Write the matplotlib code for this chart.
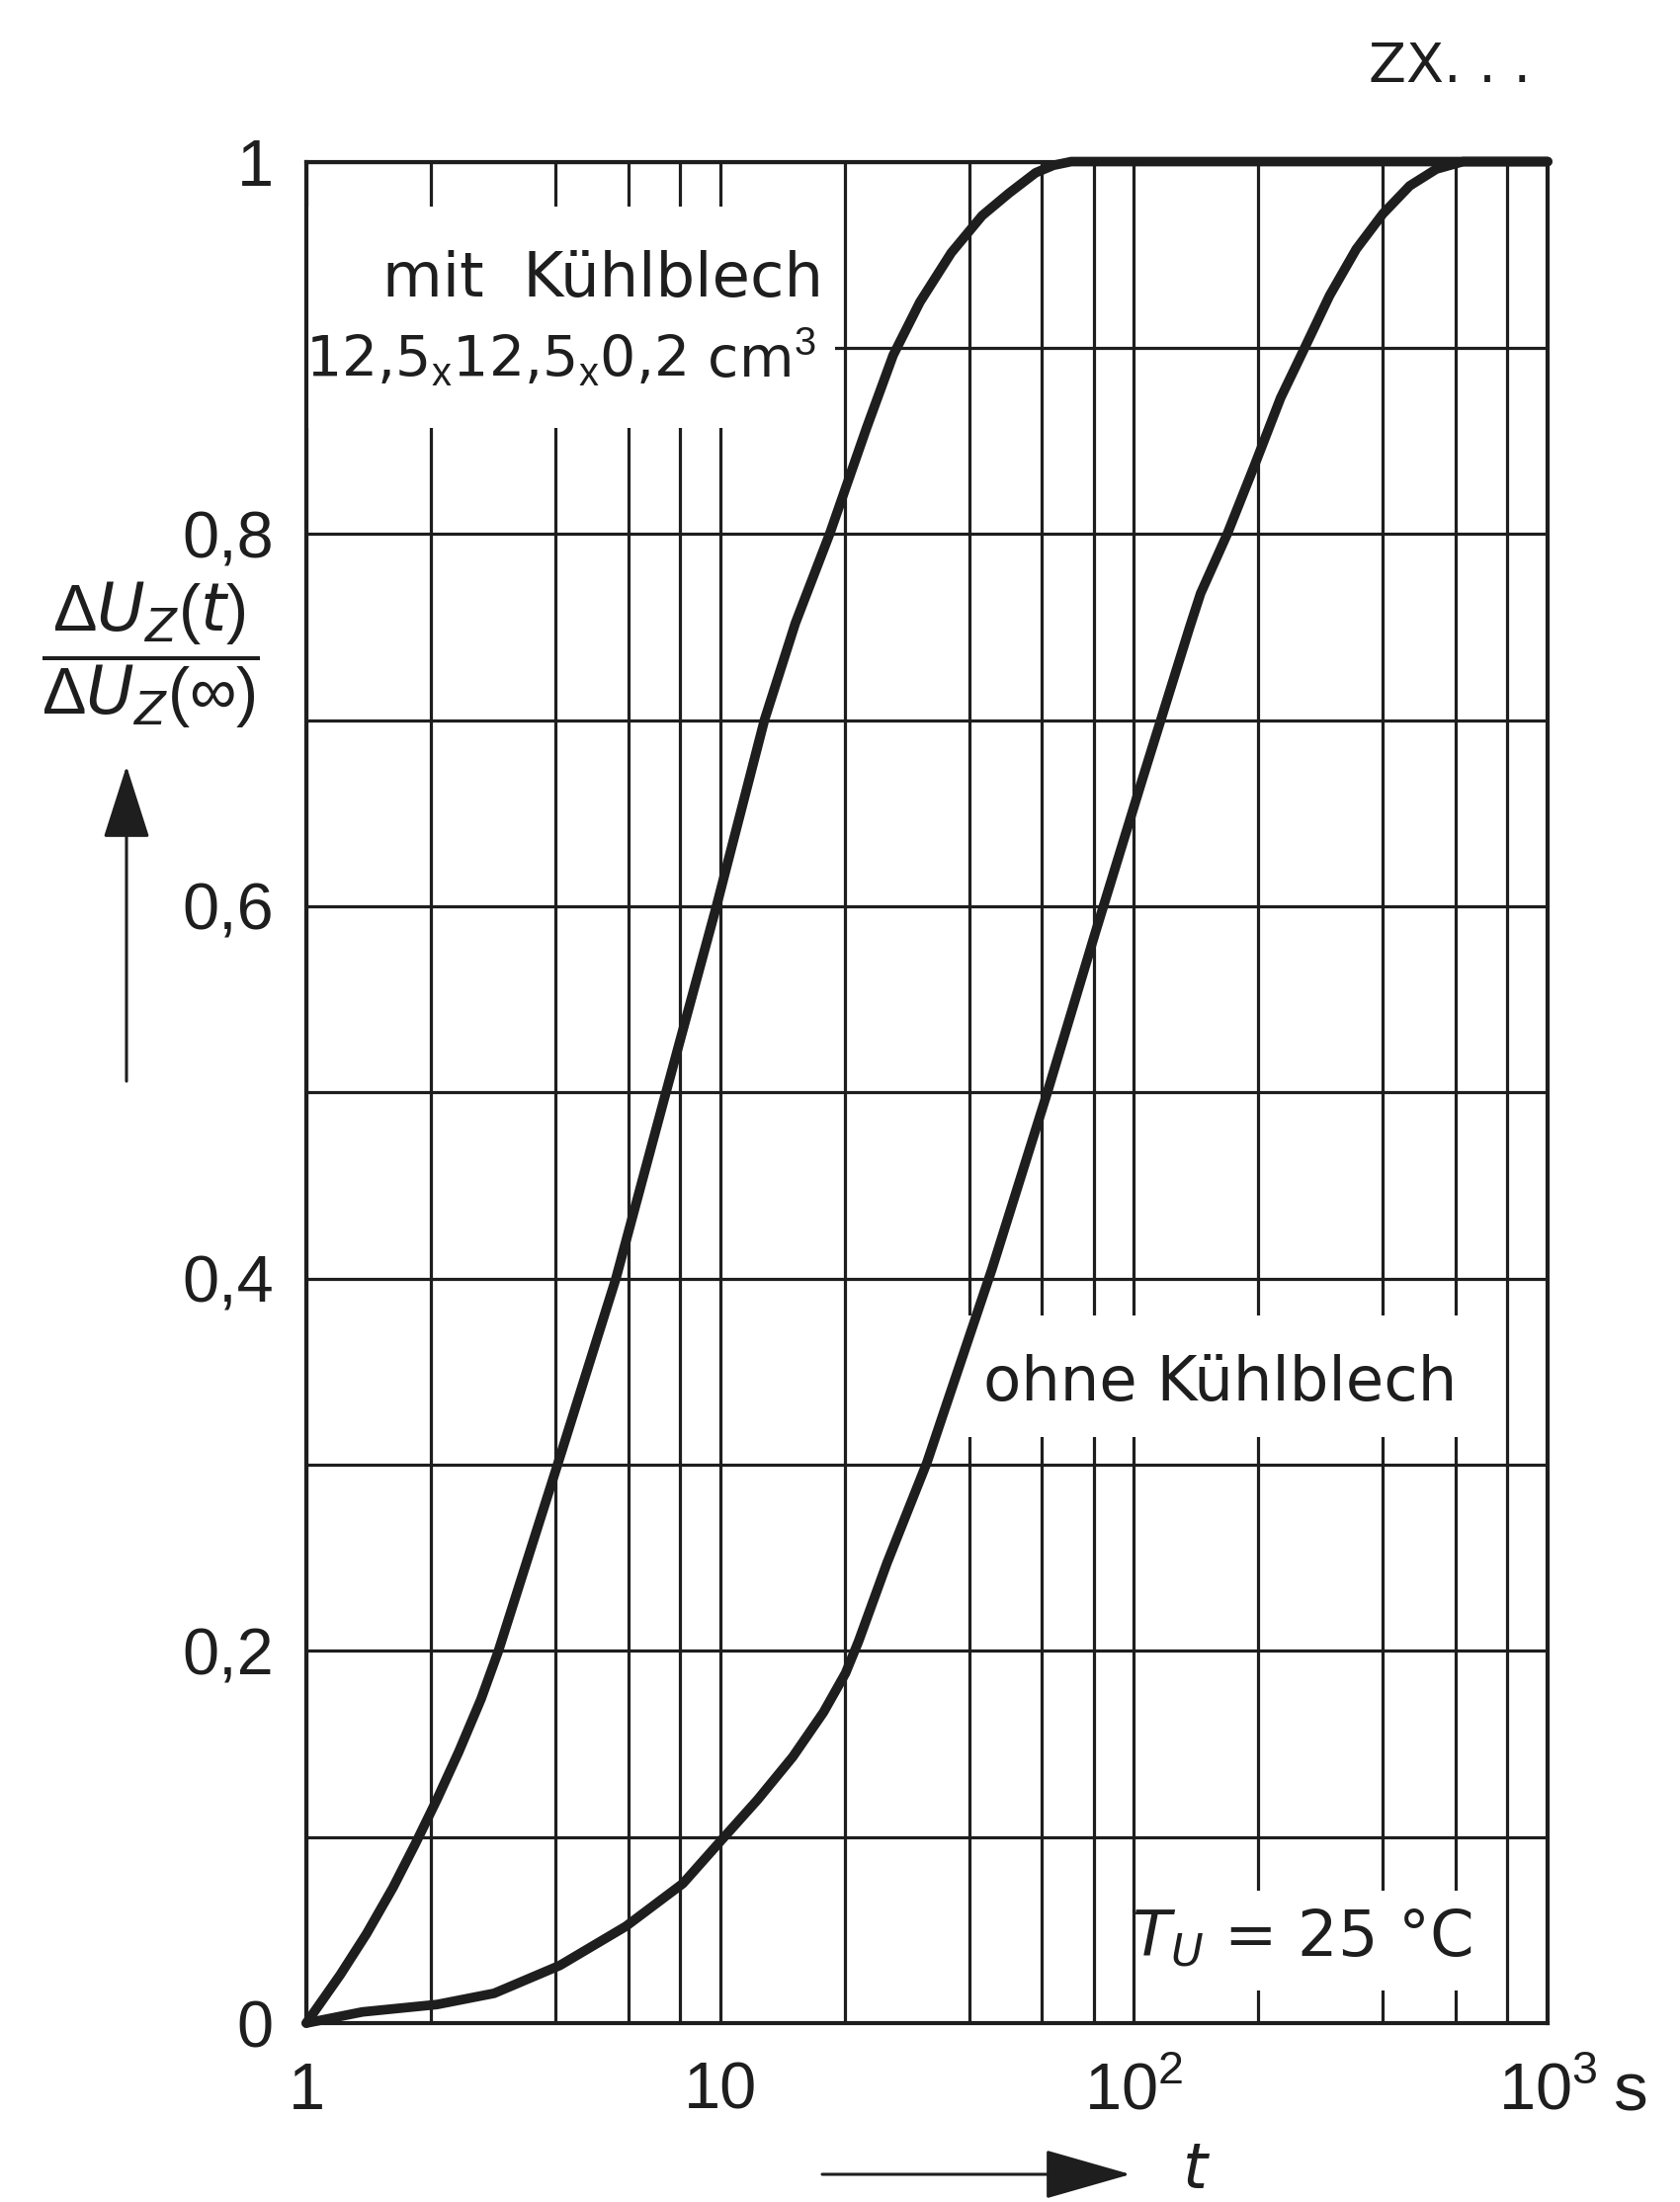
import matplotlib
matplotlib.use('Agg')
import matplotlib.pyplot as plt
from matplotlib.patches import Rectangle, FancyArrowPatch

# ---------------- data ----------------
t_mit = [1, 1.208, 1.398, 1.621, 1.831, 2.067, 2.338, 2.643, 2.913, 4.06, 5.6, 7.4, 9.8,
         12.8, 15.2, 18.4, 22.6, 26.2, 30.4, 36.2, 43.0, 49.9, 57.9, 63.9, 70.6, 1000]
u_mit = [0, 0.026, 0.048, 0.073, 0.096, 0.120, 0.146, 0.174, 0.200, 0.301, 0.400, 0.500, 0.600,
         0.700, 0.752, 0.800, 0.857, 0.896, 0.9245, 0.951, 0.971, 0.983, 0.994, 0.998, 1.0, 1.0]

t_ohne = [1, 1.366, 2.07, 2.843, 4.10, 5.92, 8.13, 10.0, 12.32, 14.98, 17.78, 20.1, 21.6, 25.3,
          31.6, 45.4, 61.8, 80.5, 104.8, 136.5, 145, 168.2, 195.1, 226.3, 256.3, 297.2, 344.8,
          400, 464.4, 538.6, 625, 1000]
u_ohne = [0, 0.006, 0.010, 0.016, 0.031, 0.052, 0.075, 0.0975, 0.120, 0.143, 0.167, 0.188, 0.205,
          0.247, 0.301, 0.405, 0.500, 0.585, 0.668, 0.750, 0.768, 0.800, 0.836, 0.873, 0.898,
          0.928, 0.953, 0.972, 0.987, 0.996, 1.0, 1.0]

x_major = [1, 10, 100, 1000]
x_major_labels = ['1', '10', r'10$^2$', r'10$^3$']
x_minor = [2, 4, 6, 8, 20, 40, 60, 80, 200, 400, 600, 800]
y_major = [0, 0.2, 0.4, 0.6, 0.8, 1.0]
y_major_labels = ['0', '0,2', '0,4', '0,6', '0,8', '1']
y_minor = [0.1, 0.3, 0.5, 0.7, 0.9]

label_mit_1 = 'mit  Kühlblech'
label_mit_2 = r'12,5$_\mathrm{x}$12,5$_\mathrm{x}$0,2 cm$^3$'
label_ohne = 'ohne Kühlblech'
label_temp = r'$T_U$ = 25 °C'
ylabel = r'$\dfrac{\Delta U_Z(t)}{\Delta U_Z(\infty)}$'
corner_text = 'ZX. . .'

# ---------------- style ----------------
NUM = 'Liberation Sans'
plt.rcParams['font.family'] = ['DejaVu Sans']
plt.rcParams['mathtext.fontset'] = 'custom'
plt.rcParams['mathtext.rm'] = NUM
plt.rcParams['mathtext.it'] = 'DejaVu Sans:italic'
plt.rcParams['mathtext.bf'] = 'DejaVu Sans:bold'

INK = '#1e1e1e'
W, H = 1700, 2228
fig = plt.figure(figsize=(W / 100, H / 100), dpi=100)
fig.patch.set_facecolor('white')

L, R, T, B = 310, 1566, 163.5, 2047
ax = fig.add_axes([L / W, 1 - B / H, (R - L) / W, (B - T) / H])
ax.set_xscale('log')
ax.set_xlim(1, 1000)
ax.set_ylim(0, 1)
ax.set_axisbelow(True)

ax.set_xticks(x_major, labels=x_major_labels)
ax.set_xticks(x_minor, minor=True)
ax.set_xticklabels([], minor=True)
ax.set_yticks(y_major, labels=y_major_labels)
ax.set_yticks(y_minor, minor=True)

ax.tick_params(which='both', length=0, colors=INK)
ax.tick_params(axis='x', which='major', pad=28, labelsize=48)
ax.tick_params(axis='y', which='major', pad=24, labelsize=48)
for lab in ax.get_xticklabels() + ax.get_yticklabels():
    lab.set_fontfamily(NUM)
    lab.set_color(INK)

ax.grid(True, which='both', color=INK, lw=2.3)
for sp in ax.spines.values():
    sp.set_color(INK)
    sp.set_linewidth(3.0)

# white boxes interrupting the grid behind the annotations
for (x0, x1, y0, y1) in [(1, 19, 0.857, 0.976), (37, 700, 0.315, 0.380), (107, 690, 0.0175, 0.071)]:
    ax.add_patch(Rectangle((x0, y0), x1 - x0, y1 - y0, facecolor='white', edgecolor='none', zorder=1.5))

# curves
ax.plot(t_mit, u_mit, color=INK, lw=7.0, solid_capstyle='round', solid_joinstyle='round',
        zorder=4, clip_on=False)
ax.plot(t_ohne, u_ohne, color=INK, lw=7.0, solid_capstyle='round', solid_joinstyle='round',
        zorder=4, clip_on=False)

# annotations
ax.text(5.21, 0.9366, label_mit_1, fontsize=45, color=INK, ha='center', va='center', zorder=3)
ax.text(4.12, 0.8946, label_mit_2, fontsize=41, color=INK, ha='center', va='center', zorder=3)
ax.text(162, 0.3435, label_ohne, fontsize=45, color=INK, ha='center', va='center', zorder=3)
ax.text(254, 0.046, label_temp, fontsize=46, color=INK, ha='center', va='center', zorder=3)

# y label (fraction) and arrow
fig.text(152 / W, 1 - 663 / H, ylabel, fontsize=48, color=INK, ha='center', va='center')
fig.add_artist(FancyArrowPatch(
    (128, H - 1094), (128, H - 775), transform=None,
    arrowstyle='-|>,head_length=2.35,head_width=0.75', mutation_scale=20,
    color=INK, lw=2.2, shrinkA=0, shrinkB=0))

# x label arrow and t
fig.add_artist(FancyArrowPatch(
    (832, H - 2200), (1144, H - 2200), transform=None,
    arrowstyle='-|>,head_length=2.8,head_width=0.8', mutation_scale=20,
    color=INK, lw=2.2, shrinkA=0, shrinkB=0))
fig.text(1211 / W, 1 - 2196 / H, r'$t$', fontsize=46, color=INK, ha='center', va='center')
fig.text(1649 / W, 1 - 2118 / H, 's', fontsize=50, color=INK, ha='center', va='center', family=NUM)

fig.text(1467 / W, 1 - 68 / H, corner_text, fontsize=40, color=INK, ha='center', va='center')

fig.savefig('out.png', dpi=100, facecolor='white')
